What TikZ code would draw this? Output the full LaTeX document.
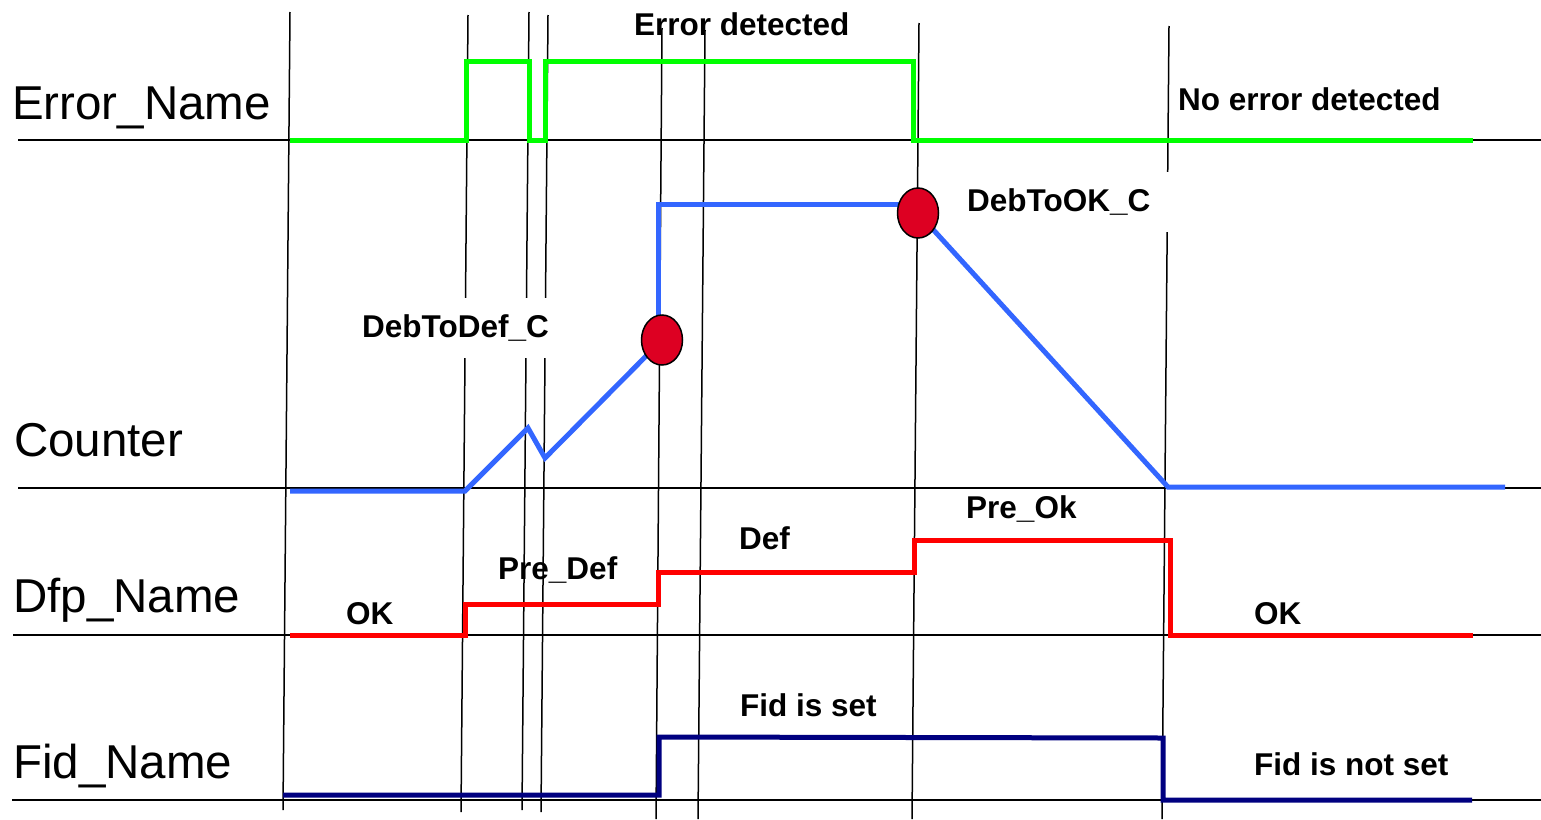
\documentclass[tikz,border=0pt]{standalone}
\usepackage{fontspec}
\setmainfont{Liberation Sans}
\usetikzlibrary{shapes.geometric}
\definecolor{sggreen}{HTML}{00FF00}
\definecolor{sgblue}{HTML}{3366FF}
\definecolor{sgred}{HTML}{FF0000}
\definecolor{sgnavy}{HTML}{000080}
\definecolor{dotred}{HTML}{DD0022}
\tikzset{
  axisline/.style={black, line width=1.7pt},
  tickline/.style={black, line width=1.5pt},
  signal/.style={line width=5pt, line join=miter},
  rowname/.style={anchor=base west, inner sep=0pt, font=\fontsize{47.5}{52}\selectfont},
  statelabel/.style={anchor=base west, inner sep=0pt, font=\fontsize{31.5}{36}\selectfont\bfseries},
  boxlabel/.style={anchor=base west, fill=white, inner xsep=22pt, inner ysep=16pt, text height=23pt, text depth=5pt, font=\fontsize{31.5}{36}\selectfont\bfseries},
  dot/.style={shape=ellipse, draw=black, line width=1.5pt, fill=dotred, minimum width=41pt, minimum height=50pt, inner sep=0pt}
}
\begin{document}
\begin{tikzpicture}[x=1pt, y=-1pt]
\useasboundingbox (0,0) rectangle (1541,819);
% baselines
\draw[axisline] (18,140) -- (1541,140);
\draw[axisline] (18,488) -- (1541,488);
\draw[axisline] (13,635) -- (1541,635);
\draw[axisline] (12,800) -- (1541,800);
% vertical time markers
\draw[tickline] (290,12) -- (283,810);
\draw[tickline] (468,15) -- (461,812);
\draw[tickline] (529,12) -- (522,810);
\draw[tickline] (548,15) -- (541,812);
\draw[tickline] (662,28) -- (656,819);
\draw[tickline] (705,30) -- (698,819);
\draw[tickline] (919,23) -- (912,819);
\draw[tickline] (1169,26) -- (1162,819);
% signals
\draw[signal, sggreen] (290,140) -- (466,140) -- (466,61) -- (529,61) -- (529,140) -- (545,140) -- (545,61) -- (913,61) -- (913,140) -- (1473,140);
\draw[signal, sgred] (290,635) -- (465,635) -- (465,604) -- (658,604) -- (658,572) -- (914,572) -- (914,540) -- (1170,540) -- (1170,635) -- (1473,635);
\draw[signal, sgnavy] (283,795) -- (659,795) -- (659,737) -- (1163,738) -- (1163,800) -- (1472,800);
\coordinate (c1pos) at (662,340);
\coordinate (c2pos) at (918,213);
\draw[signal, sgblue] (290,491) -- (465,491) -- (528,428) -- (545,458) -- (c1pos);
\draw[signal, sgblue] (658,335) -- (658,204) -- (905,204);
\draw[signal, sgblue] (c2pos) -- (1168,487) -- (1505,487);
\node[dot] (c1) at (c1pos) {};
\node[dot] (c2) at (c2pos) {};
% row names
\node[rowname] (nErr) at (12,119) {Error\_Name};
\node[rowname] (nCnt) at (14,456) {Counter};
\node[rowname] (nDfp) at (13,612) {Dfp\_Name};
\node[rowname] (nFid) at (13,778) {Fid\_Name};
% state labels
\node[statelabel] (lErr) at (634,35) {Error detected};
\node[statelabel] (lNoErr) at (1178,110) {No error detected};
\node[boxlabel] (lDebOk) at (945,211) {DebToOK\_C};
\node[boxlabel] (lDebDef) at (340,337) {DebToDef\_C};
\node[statelabel] (lOk1) at (346,624) {OK};
\node[statelabel] (lPreDef) at (498,579) {Pre\_Def};
\node[statelabel] (lDef) at (739,549) {Def};
\node[statelabel] (lPreOk) at (966,518) {Pre\_Ok};
\node[statelabel] (lOk2) at (1254,624) {OK};
\node[statelabel] (lFidSet) at (740,716) {Fid is set};
\node[statelabel] (lFidNot) at (1254,775) {Fid is not set};
\end{tikzpicture}
\end{document}
